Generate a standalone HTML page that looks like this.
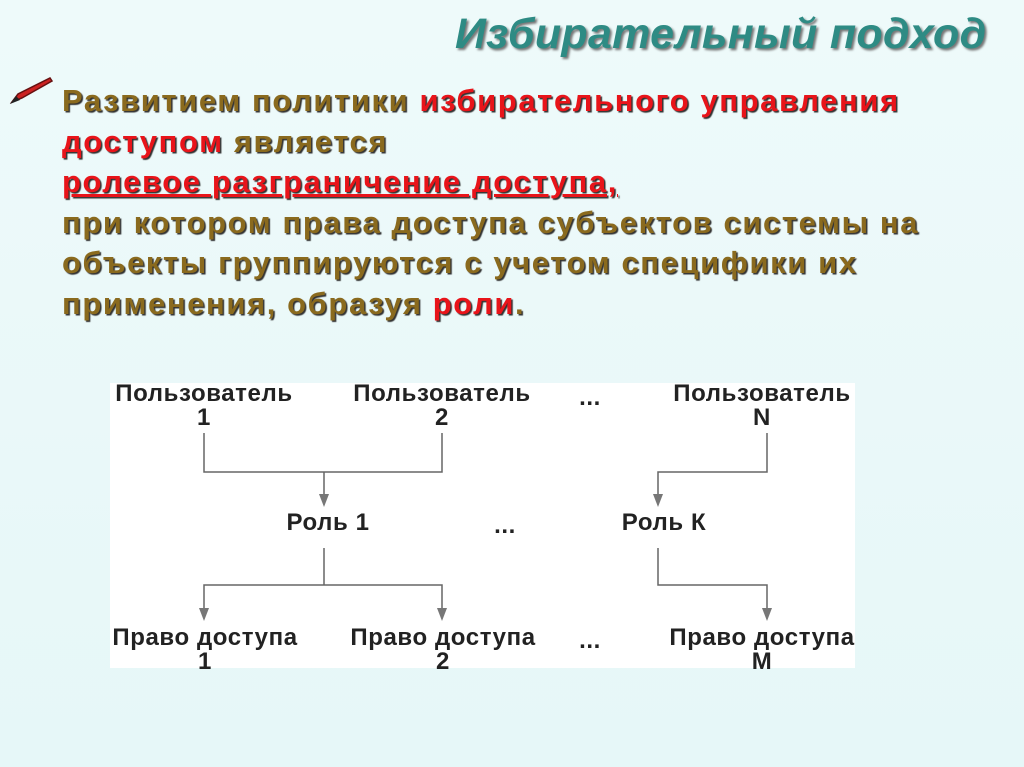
<!DOCTYPE html>
<html><head><meta charset="utf-8"><style>
body{margin:0;width:1024px;height:767px;overflow:hidden;background:linear-gradient(180deg,#eefafa,#e6f7f8);font-family:"Liberation Sans",sans-serif;position:relative}
.t{position:absolute;left:455px;top:10px;font-size:43px;font-weight:bold;font-style:italic;color:#2e8b84;text-shadow:2px 2px 2px #777;white-space:nowrap;letter-spacing:0.3px}
.p{position:absolute;left:62px;top:81px;font-size:31px;font-weight:bold;color:#8a6a1e;line-height:40.5px;text-shadow:1.5px 1.5px 1px #333;white-space:nowrap;letter-spacing:1.6px}
.r{color:#e8141a}
.u{text-decoration:underline}
.box{position:absolute;left:110px;top:383px;width:745px;height:285px;background:#fff}
.d{position:absolute;font-size:24px;font-weight:bold;color:#222;text-align:center;line-height:24px;white-space:nowrap;transform:translateX(-50%);letter-spacing:0.6px}
</style></head><body>
<div class="t">Избирательный подход</div>
<svg style="position:absolute;left:8px;top:74px" width="50" height="32"><path d="M4 28 L10 20 L42 4 L44 7 L14 24 Z" fill="#c22" stroke="#611" stroke-width="1.5"/><path d="M2 30 L8 22 L12 26 Z" fill="#222"/></svg>
<div class="p">Развитием политики <span class="r">избирательного управления</span><br><span class="r">доступом</span> является<br><span class="r u">ролевое разграничение доступа,</span><br>при котором права доступа субъектов системы на<br>объекты группируются с учетом специфики их<br>применения, образуя <span class="r">роли</span>.</div>
<div class="box"></div>
<svg style="position:absolute;left:0;top:0" width="1024" height="767">
<g stroke="#666" stroke-width="1.5" fill="none">
<path d="M204 433V472H442V433M324 472V500"/>
<path d="M767 433V472H658V500"/>
<path d="M204 615V585H442V615M324 548V585"/>
<path d="M658 548V585H767V615"/>
</g>
<g fill="#777">
<path d="M319 494L329 494L324 507Z"/><path d="M653 494L663 494L658 507Z"/>
<path d="M199 608L209 608L204 621Z"/><path d="M437 608L447 608L442 621Z"/><path d="M762 608L772 608L767 621Z"/>
</g></svg>
<div class="d" style="left:204px;top:382px">Пользователь<br>1</div>
<div class="d" style="left:442px;top:382px">Пользователь<br>2</div>
<div class="d" style="left:590px;top:386px">...</div>
<div class="d" style="left:762px;top:382px">Пользователь<br>N</div>
<div class="d" style="left:328px;top:511px">Роль 1</div>
<div class="d" style="left:505px;top:514px">...</div>
<div class="d" style="left:664px;top:511px">Роль К</div>
<div class="d" style="left:205px;top:626px">Право доступа<br>1</div>
<div class="d" style="left:443px;top:626px">Право доступа<br>2</div>
<div class="d" style="left:590px;top:629px">...</div>
<div class="d" style="left:762px;top:626px">Право доступа<br>М</div>
</body></html>
